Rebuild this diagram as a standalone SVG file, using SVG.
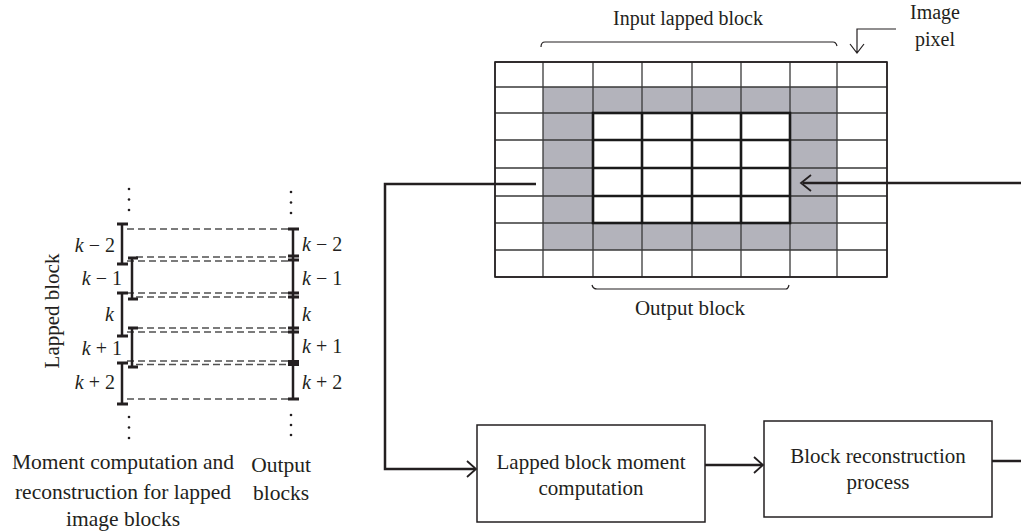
<svg xmlns="http://www.w3.org/2000/svg" width="1021" height="531" viewBox="0 0 1021 531">
  <style>
    text { font-family: "Liberation Serif", "Times New Roman", serif; fill: #231f20; font-size: 20px; }
    .mid { text-anchor: middle; }
    .end { text-anchor: end; }
    .it { font-style: italic; }
    .lg { font-size: 21px; }
    .cap { font-size: 21.5px; }
    .bar { stroke: #231f20; stroke-width: 2.5; fill: none; }
    .tick { stroke: #231f20; stroke-width: 3; fill: none; }
    .dash { stroke: #505050; stroke-width: 1.3; stroke-dasharray: 7 4; fill: none; }
    .dot { fill: #231f20; }
    .thin { stroke: #3a3a3a; stroke-width: 1.3; fill: none; }
    .bold { stroke: #1a1a1a; stroke-width: 2.6; fill: none; }
    .shade { fill: #b3b3bb; }
    .wire { stroke: #231f20; stroke-width: 2.5; fill: none; }
    .head { stroke: #231f20; stroke-width: 1.8; fill: none; stroke-linejoin: miter; }
    .box { fill: #ffffff; stroke: #231f20; stroke-width: 1.5; }
    .brace { stroke: #231f20; stroke-width: 1.2; fill: none; }
  </style>

  <rect width="1021" height="531" fill="#ffffff"/>

  <!-- Lapped / output block ladder -->
  <g id="ladder">
    <!-- dashed links between lapped and output blocks -->
    <path class="dash" d="M127,229 H289 M136,257 H289 M127,261 H289 M127,293 H289 M136,297 H289 M136,328 H289 M127,332 H289 M127,361 H289 M136,364.5 H289 M127,399 H289"/>
    <!-- lapped blocks, left column -->
    <path class="bar" d="M122,224 V264 M122,293 V336 M122,363 V404"/>
    <path class="tick" d="M117,224 H128 M117,264 H128 M117,293 H128 M117,336 H128 M117,363 H128 M117,404 H128"/>
    <!-- lapped blocks, right column -->
    <path class="bar" d="M132,258 V299 M132,328 V367"/>
    <path class="tick" d="M128,258 H138 M128,299 H138 M128,328 H138 M128,367 H138"/>
    <!-- output blocks -->
    <path class="bar" d="M293,229 V399"/>
    <path class="tick" d="M288,229 H299 M288,256 H299 M288,260 H299 M288,293 H299 M288,297 H299 M288,328 H299 M288,332 H299 M288,399 H299"/>
    <rect x="288" y="360" width="11" height="6" fill="#231f20"/>
    <!-- continuation dots -->
    <circle class="dot" cx="129" cy="189" r="1.3"/>
    <circle class="dot" cx="129" cy="199.5" r="1.3"/>
    <circle class="dot" cx="129" cy="210" r="1.3"/>
    <circle class="dot" cx="291" cy="192" r="1.3"/>
    <circle class="dot" cx="291" cy="202.5" r="1.3"/>
    <circle class="dot" cx="291" cy="213" r="1.3"/>
    <circle class="dot" cx="129" cy="417" r="1.3"/>
    <circle class="dot" cx="129" cy="427.5" r="1.3"/>
    <circle class="dot" cx="129" cy="438" r="1.3"/>
    <circle class="dot" cx="291" cy="415" r="1.3"/>
    <circle class="dot" cx="291" cy="425" r="1.3"/>
    <circle class="dot" cx="291" cy="435" r="1.3"/>
    <!-- block indices -->
    <text class="end" x="115" y="252"><tspan class="it">k</tspan> − 2</text>
    <text class="end" x="122" y="285"><tspan class="it">k</tspan> − 1</text>
    <text class="end it" x="114" y="321">k</text>
    <text class="end" x="122" y="355"><tspan class="it">k</tspan> + 1</text>
    <text class="end" x="115" y="389"><tspan class="it">k</tspan> + 2</text>
    <text x="302" y="251"><tspan class="it">k</tspan> − 2</text>
    <text x="302" y="285"><tspan class="it">k</tspan> − 1</text>
    <text class="it" x="302" y="321">k</text>
    <text x="302" y="353"><tspan class="it">k</tspan> + 1</text>
    <text x="302" y="389"><tspan class="it">k</tspan> + 2</text>
    <text class="mid lg" transform="translate(59,311) rotate(-90)">Lapped block</text>
    <text class="mid cap" x="123" y="469">Moment computation and</text>
    <text class="mid cap" x="123" y="499">reconstruction for lapped</text>
    <text class="mid cap" x="123" y="526">image blocks</text>
    <text class="mid cap" x="281" y="472">Output</text>
    <text class="mid cap" x="281" y="500">blocks</text>
  </g>

  <!-- Pixel grid with lapped block and output block -->
  <g id="grid">
    <rect x="495" y="62" width="392" height="215" fill="#ffffff"/>
    <rect class="shade" x="543" y="87" width="294" height="163"/>
    <rect x="593" y="113" width="197" height="110" fill="#ffffff"/>
    <path class="thin" d="M495,62 V277 M543,62 V277 M593,62 V277 M642,62 V277 M692,62 V277 M741,62 V277 M790,62 V277 M837,62 V277 M887,62 V277"/>
    <path class="thin" d="M495,62 H887 M495,87 H887 M495,113 H887 M495,140 H887 M495,168 H887 M495,196 H887 M495,223 H887 M495,250 H887 M495,277 H887"/>
    <rect x="495" y="62" width="392" height="215" fill="none" stroke="#231f20" stroke-width="1.6"/>
    <path class="bold" d="M642,113 V223 M692,113 V223 M741,113 V223 M593,140 H790 M593,168 H790 M593,196 H790"/>
    <rect class="bold" x="593" y="113" width="197" height="110"/>
  </g>

  <g id="grid-labels">
    <path class="brace" d="M541,47 Q541,42 545,42 H833 Q836,42 837,46"/>
    <text class="mid" x="688" y="25">Input lapped block</text>
    <path class="brace" d="M592,285 Q593,289 597,289 H786 Q788,289 789,285"/>
    <text class="mid lg" x="690" y="315">Output block</text>
    <text class="mid" x="935" y="19">Image</text>
    <text class="mid" x="935" y="46">pixel</text>
    <path class="brace" d="M896,29 H857 V53 M850,44 L857,53 L864,44"/>
  </g>

  <!-- Processing stages -->
  <g id="moment-box">
    <rect class="box" x="477" y="425" width="228" height="97"/>
    <text class="mid lg" x="591" y="469">Lapped block moment</text>
    <text class="mid lg" x="591" y="495">computation</text>
  </g>
  <g id="reconstruction-box">
    <rect class="box" x="764" y="421" width="228" height="96"/>
    <text class="mid lg" x="878" y="463">Block reconstruction</text>
    <text class="mid lg" x="878" y="489">process</text>
  </g>

  <!-- Connectors -->
  <g id="connectors">
    <path class="wire" d="M536,184 H385 V469 H475"/>
    <path class="head" d="M467,461 L476,469 L467,477"/>
    <path class="wire" d="M705,465 H762"/>
    <path class="head" d="M754,457 L763,465 L754,473"/>
    <path class="wire" d="M992,461 H1021"/>
    <path class="wire" d="M1021,183 H803"/>
    <path class="head" d="M811,175 L801,183 L811,191"/>
  </g>
</svg>
